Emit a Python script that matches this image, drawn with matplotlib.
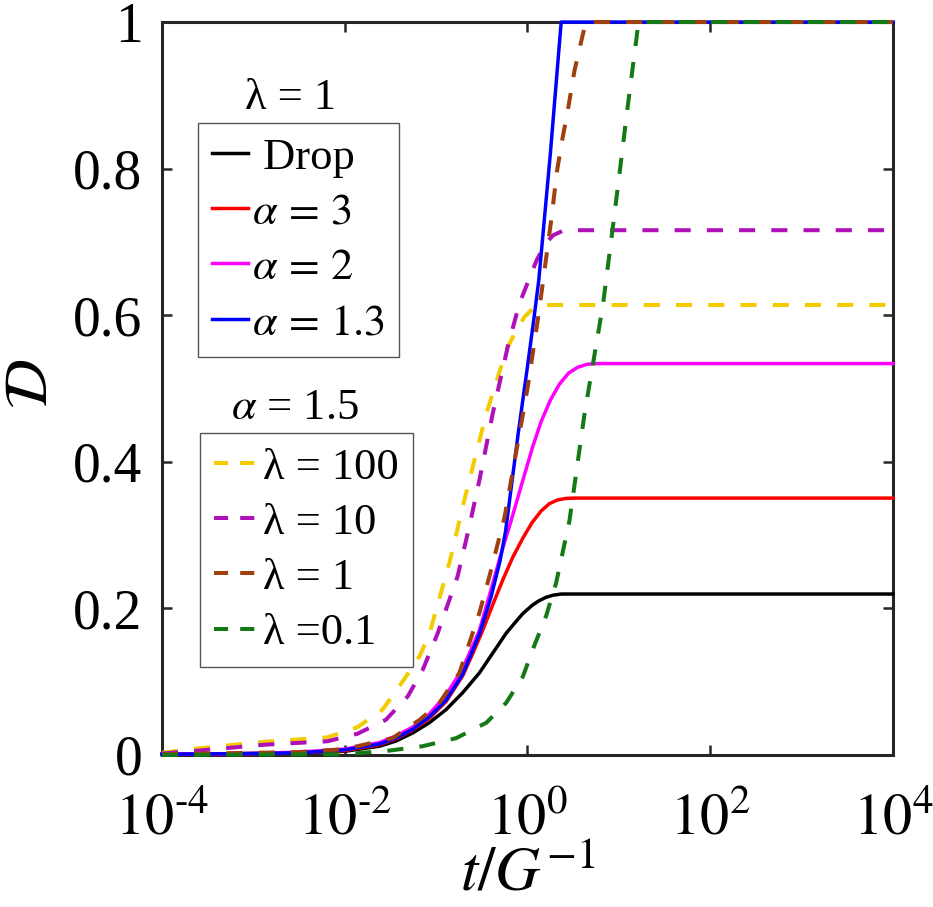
import numpy as np
import matplotlib
matplotlib.use("Agg")
import matplotlib.pyplot as plt
from matplotlib.lines import Line2D

plt.rcParams['font.family'] = ['Liberation Serif', 'DejaVu Serif']
plt.rcParams['mathtext.fontset'] = 'stix'

# ---------------- data ----------------
# log10(t) positions and damage values D for each curve
drop_logt = [-4, -3, -2.5, -2, -1.62, -1.44, -1.257, -1.074, -0.89, -0.709, -0.526, -0.38, -0.234, -0.12, -0.05, 0.05, 0.12, 0.2, 0.28, 0.37, 4]
drop_D    = [0.001, 0.002, 0.003, 0.005, 0.012, 0.019, 0.030, 0.044, 0.062, 0.085, 0.112, 0.139, 0.166, 0.183, 0.193, 0.204, 0.210, 0.215, 0.218, 0.2196, 0.2196]

a3_logt = [-4, -3, -2.5, -2, -1.62, -1.44, -1.257, -1.074, -0.89, -0.709, -0.6, -0.49, -0.38, -0.27, -0.16, -0.05, 0.05, 0.15, 0.241, 0.33, 0.42, 0.52, 4]
a3_D    = [0.001, 0.002, 0.003, 0.006, 0.014, 0.022, 0.034, 0.050, 0.073, 0.108, 0.138, 0.170, 0.205, 0.239, 0.270, 0.296, 0.317, 0.333, 0.343, 0.348, 0.350, 0.3505, 0.3505]

a2_logt = [-4, -3, -2.5, -2, -1.62, -1.44, -1.257, -1.074, -0.89, -0.709, -0.526, -0.4, -0.3, -0.197, -0.05, 0.058, 0.15, 0.25, 0.35, 0.45, 0.55, 0.65, 0.75, 4]
a2_D    = [0.001, 0.002, 0.004, 0.008, 0.017, 0.026, 0.038, 0.056, 0.082, 0.118, 0.170, 0.225, 0.270, 0.312, 0.375, 0.421, 0.455, 0.484, 0.506, 0.521, 0.529, 0.533, 0.534, 0.534]

a13_logt = [-4, -3, -2.5, -2, -1.62, -1.44, -1.257, -1.074, -0.89, -0.709, -0.526, -0.4, -0.3, -0.24, -0.1, 0.0, 0.069, 0.124, 0.25, 0.369, 4]
a13_D    = [0.001, 0.002, 0.003, 0.007, 0.015, 0.023, 0.035, 0.052, 0.075, 0.110, 0.165, 0.215, 0.265, 0.305, 0.440, 0.530, 0.594, 0.648, 0.820, 1.0, 1.0]

l100_logt = [-4, -3.6, -3.23, -2.88, -2.54, -2.19, -1.86, -1.586, -1.40, -1.18, -1.074, -0.855, -0.69, -0.636, -0.45, -0.23, -0.1, -0.03, 0.05, 0.15, 4]
l100_D    = [0.003, 0.009, 0.0137, 0.018, 0.021, 0.024, 0.038, 0.062, 0.094, 0.135, 0.165, 0.262, 0.348, 0.375, 0.466, 0.553, 0.585, 0.598, 0.608, 0.614, 0.614]

l10_logt = [-4, -3.6, -2.88, -2.19, -1.86, -1.55, -1.31, -1.147, -0.983, -0.764, -0.636, -0.526, -0.38, -0.216, -0.088, 0.1, 0.2, 0.28, 0.4, 4]
l10_D    = [0.002, 0.006, 0.014, 0.0187, 0.029, 0.048, 0.080, 0.116, 0.166, 0.244, 0.312, 0.375, 0.466, 0.557, 0.616, 0.675, 0.698, 0.709, 0.716, 0.716]

l1_logt = [-4, -3, -2.5, -2, -1.476, -1.18, -0.964, -0.745, -0.526, -0.416, -0.25, -0.1, 0.0, 0.124, 0.26, 0.325, 0.38, 0.442, 0.515, 0.6, 0.64, 4]
l1_D    = [0.001, 0.003, 0.004, 0.008, 0.023, 0.048, 0.071, 0.112, 0.194, 0.244, 0.325, 0.43, 0.50, 0.603, 0.730, 0.798, 0.839, 0.880, 0.934, 0.980, 1.0, 1.0]

l01_logt = [-4, -2, -1.51, -1.147, -0.78, -0.45, -0.234, -0.05, 0.058, 0.205, 0.314, 0.46, 0.625, 0.826, 0.917, 1.008, 1.092, 1.19, 1.215, 4]
l01_D    = [0.0, 0.001, 0.006, 0.012, 0.023, 0.044, 0.071, 0.107, 0.144, 0.190, 0.235, 0.320, 0.466, 0.614, 0.703, 0.794, 0.880, 0.975, 1.0, 1.0]

solid_labels = [' Drop', r'$\alpha\,=\,3$', r'$\alpha\,=\,2$', r'$\alpha\,=\,1.3$']
dashed_labels = ['λ = 100', 'λ = 10', 'λ = 1', 'λ =0.1']
xtick_vals = [1e-4, 1e-2, 1e0, 1e2, 1e4]
xtick_labels = [r'$10^{\text{-}4}$', r'$10^{\text{-}2}$', r'$10^{0}$', r'$10^{2}$', r'$10^{4}$']
ytick_vals = [0, 0.2, 0.4, 0.6, 0.8, 1]
ytick_labels = ['0', '0.2', '0.4', '0.6', '0.8', '1']

# ---------------- figure ----------------
fig = plt.figure(figsize=(9.33, 9.07), dpi=100)
ax = fig.add_axes([0.1736, 0.1676, 0.7835, 0.8081])

c_black = '#000000'
c_red = '#FF0000'
c_mag = '#FF00FF'
c_blue = '#0000FF'
c_yel = '#F2CC00'
c_pur = '#B010B8'
c_brn = '#A0400F'
c_grn = '#157A15'

lw_s = 2.5
lw_d = 2.9
dash = (4, 4)

def tt(v):
    return np.power(10.0, np.asarray(v))

h100, = ax.plot(tt(l100_logt), l100_D, color=c_yel, lw=lw_d, dashes=dash, clip_on=False)
h10, = ax.plot(tt(l10_logt), l10_D, color=c_pur, lw=lw_d, dashes=dash, clip_on=False)
hd, = ax.plot(tt(drop_logt), drop_D, color=c_black, lw=lw_s, clip_on=False)
ha3, = ax.plot(tt(a3_logt), a3_D, color=c_red, lw=lw_s, clip_on=False)
ha2, = ax.plot(tt(a2_logt), a2_D, color=c_mag, lw=lw_s, clip_on=False)
ha13, = ax.plot(tt(a13_logt), a13_D, color=c_blue, lw=lw_s, clip_on=False)
h1, = ax.plot(tt(l1_logt), l1_D, color=c_brn, lw=lw_d, dashes=dash, clip_on=False)
h01, = ax.plot(tt(l01_logt), l01_D, color=c_grn, lw=lw_d, dashes=dash, clip_on=False)

ax.set_xscale('log')
ax.set_xlim(1e-4, 1e4)
ax.set_ylim(0, 1)
ax.set_xticks(xtick_vals)
ax.set_xticklabels(xtick_labels)
ax.minorticks_off()
ax.set_yticks(ytick_vals)
ax.set_yticklabels(ytick_labels)
ax.tick_params(direction='in', length=7, width=1.8, top=True, right=True, color='#262626')
ax.tick_params(axis='x', pad=28, labelsize=42)
ax.tick_params(axis='y', pad=14, labelsize=40)
for s in ax.spines.values():
    s.set_linewidth(2.2)
    s.set_color('#262626')
    s.set_zorder(1)

ax.set_xlabel(r'$t/G^{-1}$', fontsize=45, labelpad=0)
ax.set_ylabel(r'$\mathcal{D}$', fontsize=44)
ax.yaxis.set_label_coords(-0.14, 0.506)

leg_kw = dict(fontsize=32, frameon=True, fancybox=False, framealpha=1,
              edgecolor='#555555', borderpad=0.32, labelspacing=0.34,
              handletextpad=0.1, borderaxespad=0)

leg1 = ax.legend([hd, ha3, ha2, ha13], solid_labels, handlelength=0.8,
                 loc='upper left', bbox_to_anchor=(0.049, 0.862), **leg_kw)
leg1.get_frame().set_linewidth(1.0)
ax.add_artist(leg1)

dh = [Line2D([], [], color=c, lw=lw_d, dashes=(3.5, 3.0)) for c in (c_yel, c_pur, c_brn, c_grn)]
leg2 = ax.legend(dh, dashed_labels, loc='upper left', bbox_to_anchor=(0.052, 0.439),
                 handlelength=1.0, **leg_kw)
leg2.get_frame().set_linewidth(1.0)

ax.text(0.176, 0.896, 'λ = 1', transform=ax.transAxes, fontsize=32, ha='center', va='center')
ax.text(0.182, 0.473, r'$\alpha$ = 1.5', transform=ax.transAxes, fontsize=32, ha='center', va='center')

fig.savefig('out.png', dpi=100)
